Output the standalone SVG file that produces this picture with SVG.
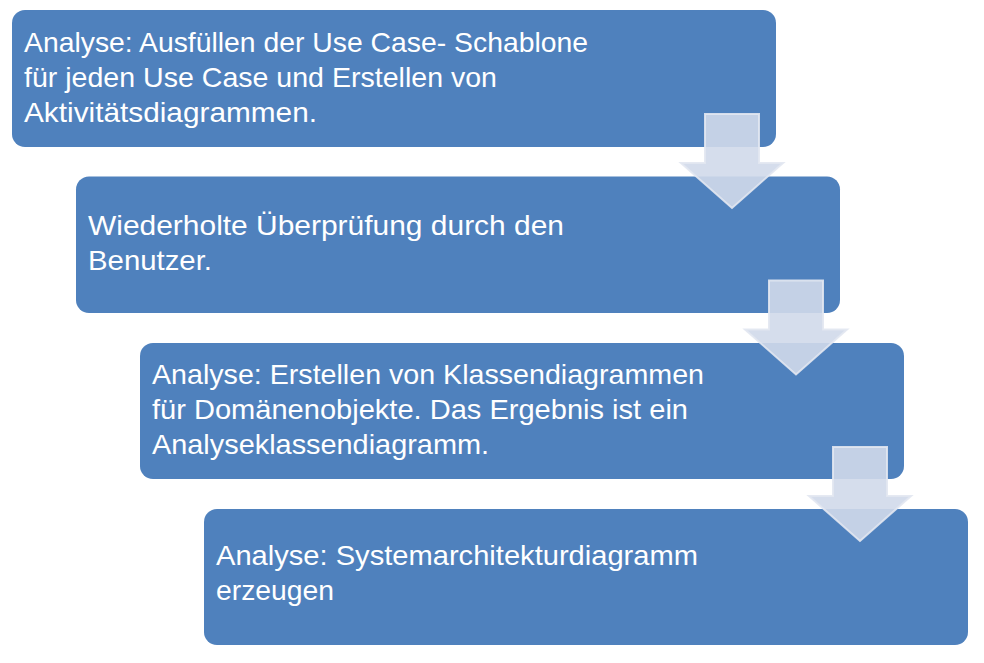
<svg xmlns="http://www.w3.org/2000/svg" width="984" height="663" viewBox="0 0 984 663">
<style>
.box{fill:#4f81bd;}
.t{font-family:"Liberation Sans",Arial,sans-serif;font-size:28px;fill:#ffffff;}
.arr{fill:#d0d9ea;fill-opacity:0.9;stroke:#e2e7f1;stroke-opacity:0.9;stroke-width:2;stroke-linejoin:miter;}
</style>
<rect width="984" height="663" fill="#ffffff"/>
<g id="node1">
<rect class="box" x="12" y="10" width="764" height="137" rx="13" ry="13"/>
<text class="t" x="24" y="52" textLength="564" lengthAdjust="spacingAndGlyphs">Analyse: Ausfüllen der Use Case- Schablone</text>
<text class="t" x="24" y="87" textLength="473" lengthAdjust="spacingAndGlyphs">für jeden Use Case und Erstellen von</text>
<text class="t" x="24" y="122" textLength="293" lengthAdjust="spacingAndGlyphs">Aktivitätsdiagrammen.</text>
</g>
<g id="node2">
<rect class="box" x="76" y="176.5" width="764" height="136.5" rx="13" ry="13"/>
<text class="t" x="88" y="235" textLength="476" lengthAdjust="spacingAndGlyphs">Wiederholte Überprüfung durch den</text>
<text class="t" x="88" y="270" textLength="124" lengthAdjust="spacingAndGlyphs">Benutzer.</text>
</g>
<g id="node3">
<rect class="box" x="140" y="343" width="764" height="136" rx="13" ry="13"/>
<text class="t" x="152" y="384" textLength="552" lengthAdjust="spacingAndGlyphs">Analyse: Erstellen von Klassendiagrammen</text>
<text class="t" x="152" y="419" textLength="536" lengthAdjust="spacingAndGlyphs">für Domänenobjekte. Das Ergebnis ist ein</text>
<text class="t" x="152" y="454" textLength="337" lengthAdjust="spacingAndGlyphs">Analyseklassendiagramm.</text>
</g>
<g id="node4">
<rect class="box" x="204" y="509" width="764" height="136" rx="13" ry="13"/>
<text class="t" x="216" y="565" textLength="482" lengthAdjust="spacingAndGlyphs">Analyse: Systemarchitekturdiagramm</text>
<text class="t" x="216" y="600" textLength="118" lengthAdjust="spacingAndGlyphs">erzeugen</text>
</g>
<g id="connectors">
<path class="arr" d="M705,114 H759 V163 H783 L732,208 L681,163 H705 Z"/>
<path class="arr" d="M769,280.5 H823 V329.5 H847 L796,374.5 L745,329.5 H769 Z"/>
<path class="arr" d="M833,447 H887 V496 H911 L860,541 L809,496 H833 Z"/>
</g>
</svg>
